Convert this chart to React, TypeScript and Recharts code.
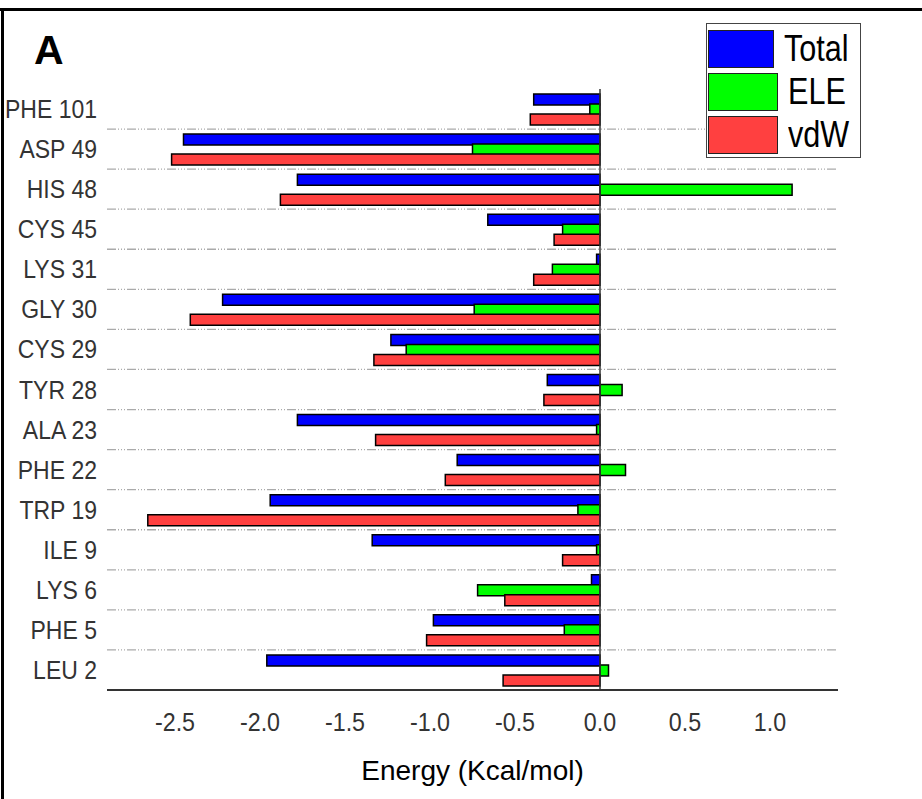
import { BarChart, Bar, XAxis, YAxis, CartesianGrid, ReferenceLine, Legend } from 'recharts'

const residues = [
  'PHE 101', 'ASP 49', 'HIS 48', 'CYS 45', 'LYS 31', 'GLY 30', 'CYS 29', 'TYR 28',
  'ALA 23', 'PHE 22', 'TRP 19', 'ILE 9', 'LYS 6', 'PHE 5', 'LEU 2',
]
const totalEnergy = [-0.39, -2.45, -1.78, -0.66, -0.02, -2.22, -1.23, -0.31, -1.78, -0.84, -1.94, -1.34, -0.05, -0.98, -1.96]
const eleEnergy = [-0.06, -0.75, 1.13, -0.22, -0.28, -0.74, -1.14, 0.13, -0.02, 0.15, -0.13, -0.02, -0.72, -0.21, 0.05]
const vdwEnergy = [-0.41, -2.52, -1.88, -0.27, -0.39, -2.41, -1.33, -0.33, -1.32, -0.91, -2.66, -0.22, -0.56, -1.02, -0.57]
const xTicks = [-2.5, -2.0, -1.5, -1.0, -0.5, 0.0, 0.5, 1.0]

const series = [
  { key: 'total', name: 'Total', color: '#0000FF' },
  { key: 'ele', name: 'ELE', color: '#00FF00' },
  { key: 'vdw', name: 'vdW', color: '#FF4040' },
]

const data = residues.map((res, i) => ({
  res,
  total: totalEnergy[i],
  ele: eleEnergy[i],
  vdw: vdwEnergy[i],
}))

const FONT = 'Arial, "Liberation Sans", sans-serif'

// eslint-disable-next-line @typescript-eslint/no-explicit-any
function YTick({ x, y, payload }: any) {
  return (
    <text
      transform={`translate(${x},${y}) scale(0.92,1)`}
      textAnchor="end"
      dy="0.36em"
      fontSize={25}
      fontFamily={FONT}
      fill="#333"
    >
      {payload.value}
    </text>
  )
}

// eslint-disable-next-line @typescript-eslint/no-explicit-any
function XTick({ x, y, payload }: any) {
  return (
    <text
      transform={`translate(${x},${y}) scale(0.93,1)`}
      textAnchor="middle"
      dy="0.71em"
      fontSize={25}
      fontFamily={FONT}
      fill="#333"
    >
      {Number(payload.value).toFixed(1)}
    </text>
  )
}

function EnergyLegend() {
  return (
    <div
      style={{
        border: '1.5px solid #444',
        background: '#fff',
        width: 155,
        height: 135,
        boxSizing: 'border-box',
        padding: '3px 0 0 1px',
      }}
    >
      {series.map(s => (
        <div key={s.key} style={{ display: 'flex', alignItems: 'center', height: 43 }}>
          <div
            style={{
              width: 70,
              height: 38,
              background: s.color,
              border: '1.5px solid #222',
              boxSizing: 'border-box',
            }}
          />
          <span
            style={{
              marginLeft: 10,
              fontFamily: FONT,
              fontSize: 36,
              color: '#000',
              display: 'inline-block',
              transform: 'scaleX(0.85)',
              transformOrigin: 'left center',
              lineHeight: '38px',
            }}
          >
            {s.name}
          </span>
        </div>
      ))}
    </div>
  )
}

// eslint-disable-next-line @typescript-eslint/no-explicit-any
function bandBoundaries({ offset }: any) {
  const top = offset?.top ?? 89
  const h = offset?.height ?? 601
  const step = h / residues.length
  const out: number[] = []
  for (let i = 1; i < residues.length; i++) out.push(top + i * step)
  return out
}

export default function App() {
  return (
    <div
      style={{
        position: 'absolute',
        left: 0,
        top: 0,
        width: 922,
        height: 799,
        background: '#fff',
        overflow: 'hidden',
      }}
    >
      <div style={{ position: 'absolute', left: 0, top: 8, width: 922, height: 3, background: '#000' }} />
      <div style={{ position: 'absolute', left: 1, top: 8, width: 3, height: 791, background: '#000' }} />
      <div
        style={{
          position: 'absolute',
          left: 34,
          top: 27,
          fontFamily: FONT,
          fontWeight: 'bold',
          fontSize: 41,
          lineHeight: '47px',
          color: '#000',
        }}
      >
        A
      </div>
      <div style={{ position: 'absolute', left: 0, top: 0 }}>
        <BarChart
          width={922}
          height={799}
          data={data}
          layout="vertical"
          margin={{ top: 89, right: 84, bottom: 9, left: 8 }}
          barSize={11}
          barGap={-1}
        >
          <CartesianGrid
            vertical={false}
            stroke="#aaa"
            strokeWidth={1.3}
            strokeDasharray="9 2 1 2 1 2 1 2"
            horizontalCoordinatesGenerator={bandBoundaries}
          />
          <XAxis
            type="number"
            domain={[-2.9, 1.4]}
            ticks={xTicks}
            allowDataOverflow
            height={100}
            tickSize={0}
            tickMargin={23}
            tick={<XTick />}
            axisLine={{ stroke: '#333', strokeWidth: 2 }}
            tickLine={false}
            label={{
              value: 'Energy (Kcal/mol)',
              position: 'insideBottom',
              offset: 10,
              fontSize: 28,
              fontFamily: FONT,
              fill: '#000',
            }}
          />
          <YAxis
            type="category"
            dataKey="res"
            width={99}
            tickSize={0}
            tickMargin={10}
            tick={<YTick />}
            axisLine={false}
            tickLine={false}
            interval={0}
          />
          <Legend
            layout="horizontal"
            verticalAlign="middle"
            align="center"
            content={<EnergyLegend />}
            wrapperStyle={{ left: 706, top: 23, width: 155, height: 135 }}
          />
          {series.map(s => (
            <Bar
              key={s.key}
              dataKey={s.key}
              name={s.name}
              fill={s.color}
              stroke="#000"
              strokeWidth={1.5}
              isAnimationActive={false}
            />
          ))}
          <ReferenceLine x={0} stroke="#333" strokeWidth={1.5} />
        </BarChart>
      </div>
    </div>
  )
}
